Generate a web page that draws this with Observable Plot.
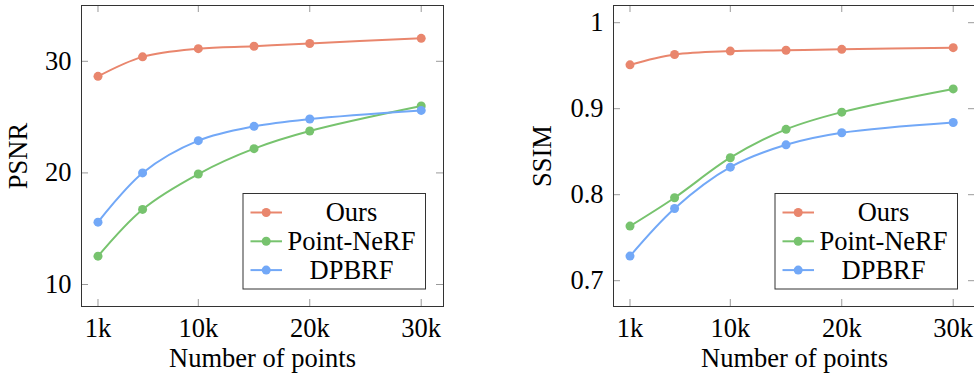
<!DOCTYPE html>
<html>
<head>
<meta charset="utf-8">
<script src="https://cdn.jsdelivr.net/npm/d3@7"></script>
<script src="https://cdn.jsdelivr.net/npm/@observablehq/plot@0.6"></script>
<style>
  html, body { margin: 0; padding: 0; background: white; }
  #wrap { width: 974px; height: 374px; overflow: hidden; display: flex; flex-direction: row; }
  #wrap svg { flex: none; display: block; }
</style>
</head>
<body>
<div id="wrap"></div>
<script>
// ---- data ----
const pointCounts = [1, 5, 10, 15, 20, 30]; // thousands of points
const seriesNames = ["Ours", "Point-NeRF", "DPBRF"];
const seriesColors = ["#E9866D", "#77C36E", "#72A8F7"];
const xTickValues = [1, 10, 20, 30];

const psnrOurs      = [28.65, 30.40, 31.13, 31.35, 31.60, 32.06];
const psnrPointNeRF = [12.54, 16.73, 19.90, 22.17, 23.75, 25.99];
const psnrDPBRF     = [15.59, 20.00, 22.89, 24.17, 24.83, 25.60];
const psnrTicks = [10, 20, 30];

const ssimOurs      = [0.951, 0.963, 0.967, 0.968, 0.969, 0.971];
const ssimPointNeRF = [0.7635, 0.7965, 0.843, 0.876, 0.896, 0.923];
const ssimDPBRF     = [0.7286, 0.784, 0.832, 0.858, 0.872, 0.884];
const ssimTicks = [0.7, 0.8, 0.9, 1];

function rows(seriesArrays) {
  const out = [];
  seriesArrays.forEach((vals, i) => {
    vals.forEach((v, j) => out.push({x: pointCounts[j], value: v, series: seriesNames[i]}));
  });
  return out;
}

const FONT = "'Liberation Serif', 'Times New Roman', serif";
const FS = 26.5;

function panel({data, yDomain, yTicks, yLabel, width, marginLeft, marginRight, yLabelDx}) {
  const height = 374, marginTop = 5, marginBottom = 68;
  const innerW = width - marginLeft - marginRight;
  const innerH = height - marginTop - marginBottom;
  const tick = 7;
  const svg = Plot.plot({
    width, height, marginLeft, marginRight, marginTop, marginBottom,
    style: {fontFamily: FONT, fontSize: FS + "px", color: "black", background: "white", overflow: "visible"},
    x: {domain: [-0.48, 32]},
    y: {domain: yDomain},
    color: {domain: seriesNames, range: seriesColors},
    marks: [
      Plot.axisX({ticks: xTickValues, tickSize: 0, tickPadding: 12, tickFormat: d => d + "k", label: null, fontSize: FS}),
      Plot.axisY({ticks: yTicks, tickSize: 0, tickPadding: 10, tickFormat: d => String(d), label: null, fontSize: FS}),
      Plot.ruleX(xTickValues, {x: d => d, stroke: "#9a9a9a", insetTop: innerH - tick}),
      Plot.ruleX(xTickValues, {x: d => d, stroke: "#9a9a9a", insetBottom: innerH - tick}),
      Plot.ruleY(yTicks, {y: d => d, stroke: "#9a9a9a", insetRight: innerW - tick}),
      Plot.ruleY(yTicks, {y: d => d, stroke: "#9a9a9a", insetLeft: innerW - tick}),
      Plot.frame({stroke: "#333", strokeWidth: 1}),
      Plot.line(data, {x: "x", y: "value", z: "series", stroke: "series", curve: "catmull-rom", strokeWidth: 2}),
      Plot.dot(data, {x: "x", y: "value", fill: "series", r: 4.5}),
      Plot.text(["Number of points"], {text: d => d, frameAnchor: "bottom", lineAnchor: "middle", dy: 52, fontSize: FS, fill: "black"}),
      Plot.text([yLabel], {text: d => d, frameAnchor: "left", lineAnchor: "middle", textAnchor: "middle", rotate: -90, dx: yLabelDx, fontSize: FS, fill: "black"})
    ]
  });

  // legend inside the plot, bottom-right
  const boxW = 182.5, boxH = 95.5;
  const boxX = width - marginRight - 17.5 - boxW;
  const boxY = height - marginBottom - 17 - boxH;
  const g = d3.select(svg).append("g").attr("font-family", FONT).attr("font-size", FS);
  g.append("rect")
    .attr("x", boxX).attr("y", boxY).attr("width", boxW).attr("height", boxH)
    .attr("fill", "white").attr("stroke", "#333").attr("stroke-width", 1);
  seriesNames.forEach((name, i) => {
    const cy = boxY + 19 + i * 28.8;
    g.append("line")
      .attr("x1", boxX + 7.5).attr("x2", boxX + 39).attr("y1", cy).attr("y2", cy)
      .attr("stroke", seriesColors[i]).attr("stroke-width", 2);
    g.append("circle")
      .attr("cx", boxX + 23.2).attr("cy", cy).attr("r", 4.5).attr("fill", seriesColors[i]);
    g.append("text")
      .attr("x", boxX + 108.5).attr("y", cy).attr("dy", "0.32em")
      .attr("text-anchor", "middle").attr("fill", "black").text(name);
  });
  return svg;
}

const wrap = document.getElementById("wrap");
wrap.appendChild(panel({
  data: rows([psnrOurs, psnrPointNeRF, psnrDPBRF]),
  yDomain: [8.03, 35.0], yTicks: psnrTicks, yLabel: "PSNR",
  width: 487, marginLeft: 81, marginRight: 44, yLabelDx: -63
}));
wrap.appendChild(panel({
  data: rows([ssimOurs, ssimPointNeRF, ssimDPBRF]),
  yDomain: [0.67, 1.02], yTicks: ssimTicks, yLabel: "SSIM",
  width: 489, marginLft: 126, marginLeft: 126, marginRight: 1, yLabelDx: -71
}));
</script>
</body>
</html>
